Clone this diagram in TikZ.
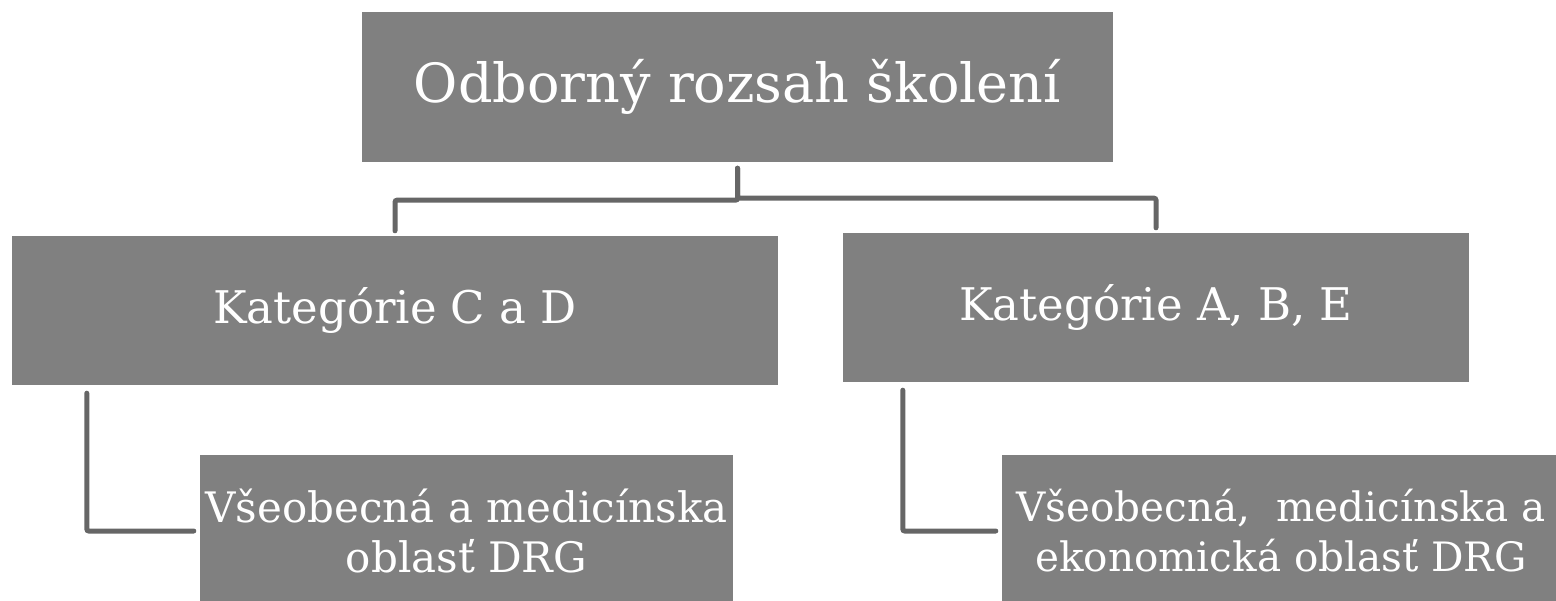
\documentclass[tikz,border=0pt]{standalone}
\usepackage{fontspec}
\setmainfont{DejaVu Serif}
\definecolor{boxgray}{HTML}{808080}
\definecolor{linegray}{HTML}{666666}
\begin{document}
\begin{tikzpicture}[x=1pt,y=-1pt,
  box/.style={fill=boxgray,draw=none,rectangle,inner sep=0pt,text=white,align=center},
  conn/.style={draw=linegray,line width=5pt,rounded corners=2pt,line cap=round},
  toptext/.style={font=\fontsize{54}{60}\selectfont},
  bigtext/.style={font=\fontsize{45}{50}\selectfont},
  smalltext/.style={font=\fontsize{42}{50}\selectfont},
  smallertext/.style={font=\fontsize{40.5}{50}\selectfont}]
\useasboundingbox (0,0) rectangle (1556,600);
\clip (0,0) rectangle (1556,600);
\node[box,toptext,minimum width=751pt,minimum height=150pt] (top) at (737.5,87) {Odborný rozsah školení};
\node[box,bigtext,minimum width=766pt,minimum height=149pt] (left) at (395,310.5) {Kategórie C a D};
\node[box,bigtext,minimum width=626pt,minimum height=149pt] (right) at (1156,307.5) {Kategórie A, B, E};
\node[box,smalltext,minimum width=533pt,minimum height=152pt] (bl) at (466.5,531) {Všeobecná a medicínska\\oblasť DRG};
\node[box,smallertext,minimum width=558pt,minimum height=152pt] (br) at (1281,531) {Všeobecná,\ \ medicínska a\\ekonomická oblasť DRG};
\draw[conn] ([yshift=-6pt]top.south) -- ++(0,32) -| ([yshift=5pt]left.north);
\draw[conn] ([yshift=-6pt]top.south) -- ++(0,30) -| ([yshift=5pt]right.north);
\draw[conn] ([xshift=75pt,yshift=-8pt]left.south west) |- ([xshift=-6pt]bl.west);
\draw[conn] ([xshift=60pt,yshift=-8pt]right.south west) |- ([xshift=-6pt]br.west);
\end{tikzpicture}
\end{document}
